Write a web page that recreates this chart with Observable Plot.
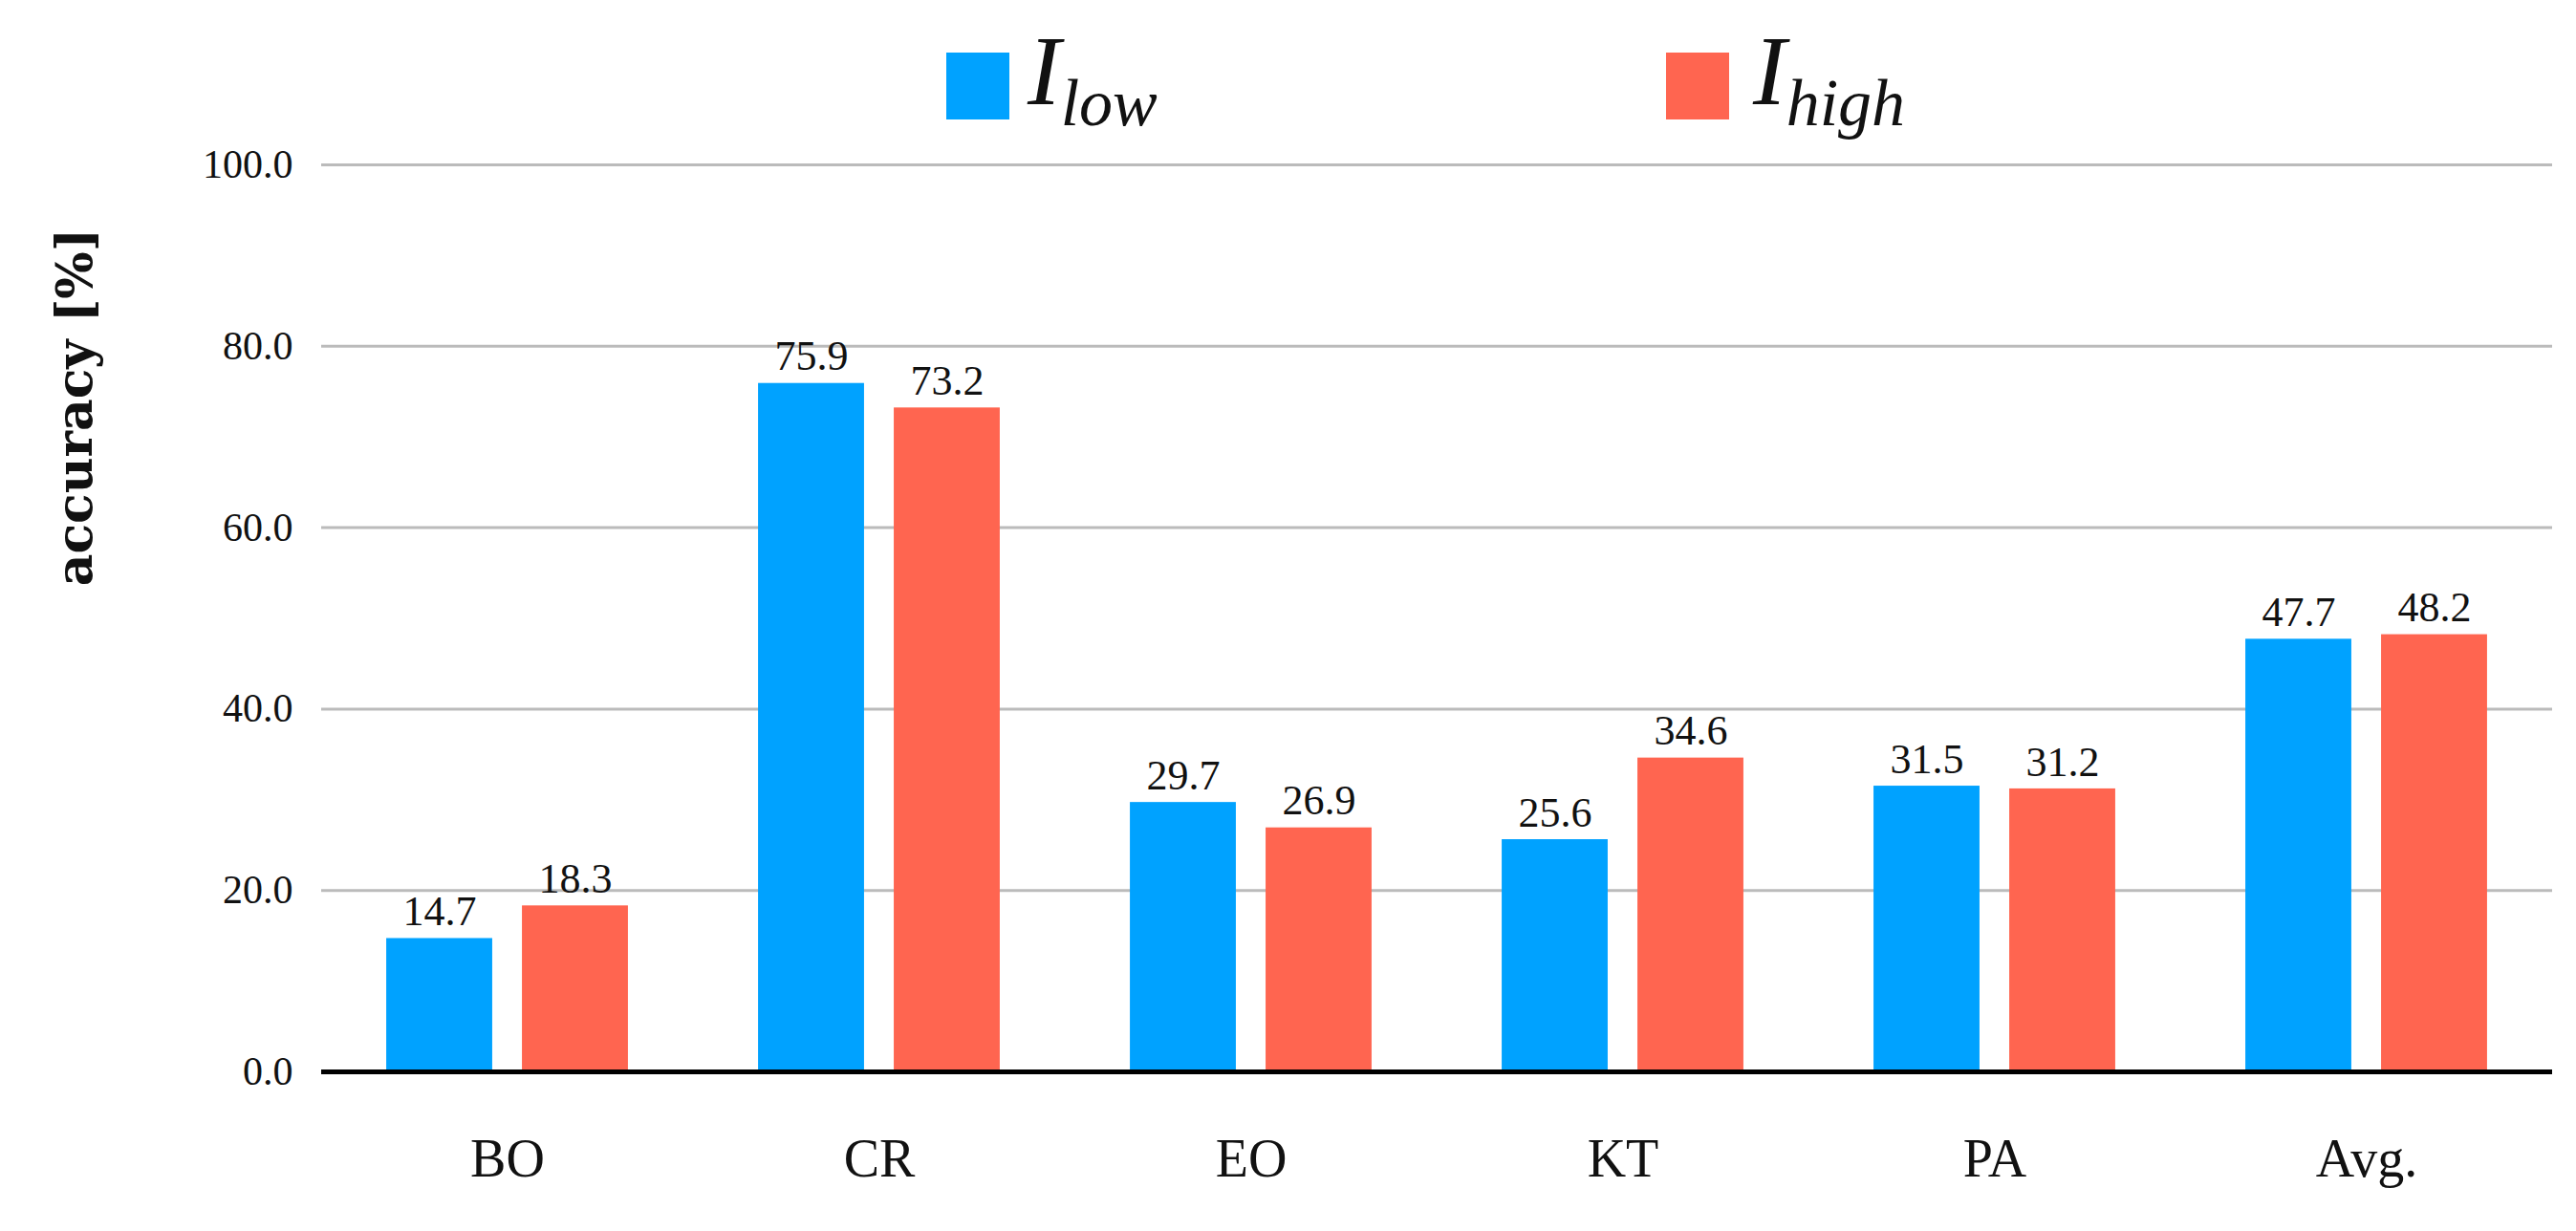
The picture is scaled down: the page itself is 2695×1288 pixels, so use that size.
<!DOCTYPE html>
<html><head><meta charset="utf-8">
<script src="https://cdn.jsdelivr.net/npm/d3@7"></script>
<script src="https://cdn.jsdelivr.net/npm/@observablehq/plot@0.6"></script>
<style>
body{margin:0;background:#fff;}
#wrap{position:relative;width:2695px;height:1288px;font-family:"Liberation Serif",serif;}
.lg{position:absolute;top:55px;width:66px;height:70px;}
.lt{position:absolute;top:14px;font-size:104px;font-style:italic;color:#111;}
.lt sub{font-size:70px;}
#yt{position:absolute;left:77px;top:426px;transform:translate(-50%,-50%) rotate(-90deg);font-family:"DejaVu Serif",serif;font-weight:bold;font-size:52px;white-space:nowrap;color:#111;}
</style></head><body>
<div id="wrap">
<div class="lg" style="left:990px;background:#00A2FF"></div><div class="lt" style="left:1075px">I<sub>low</sub></div>
<div class="lg" style="left:1743px;background:#FF6550"></div><div class="lt" style="left:1834px">I<sub>high</sub></div>
<div id="yt">accuracy [%]</div>
</div>
<script>
const categories = ["BO","CR","EO","KT","PA","Avg."];
const series = ["I_low","I_high"];
const lowValues = [14.7,75.9,29.7,25.6,31.5,47.7];
const highValues = [18.3,73.2,26.9,34.6,31.2,48.2];
const yTicks = [0,20,40,60,80,100];
const colors = ["#00A2FF","#FF6550"];
// bar slot within each category group (fraction of group width)
const slots = [[0.175,0.46],[0.54,0.825]];
const data = categories.flatMap((c,i)=>[lowValues[i],highValues[i]].map((v,j)=>(
  {i, s:series[j], v, x1:i+slots[j][0], x2:i+slots[j][1], xm:i+(slots[j][0]+slots[j][1])/2})));
const chart = Plot.plot({
  width:2695, height:1288,
  marginLeft:336, marginRight:25, marginTop:172, marginBottom:167,
  style:{fontFamily:"Liberation Serif, serif", fontSize:"44px", color:"#111", background:"transparent"},
  x:{domain:[0,categories.length], label:null},
  y:{domain:[0,100], label:null},
  color:{domain:series, range:colors},
  marks:[
    Plot.ruleY(yTicks.filter(t=>t>0), {stroke:"#bbb", strokeWidth:3}),
    Plot.axisY({ticks:yTicks, tickFormat:d=>d.toFixed(1), tickSize:0, tickPadding:30, fontSize:42, label:null}),
    Plot.axisX({ticks:categories.map((c,i)=>i+0.5), tickFormat:d=>categories[Math.floor(d)], tickSize:0, tickPadding:70, fontSize:56, label:null}),
    Plot.rectY(data, {x1:"x1", x2:"x2", y:"v", fill:"s"}),
    Plot.text(data, {x:"xm", y:"v", text:d=>d.v.toFixed(1), dy:-28, fontSize:44, fill:"#111"}),
    Plot.ruleY([0], {stroke:"#000", strokeWidth:5})
  ]
});
chart.style.position="absolute"; chart.style.left="0"; chart.style.top="0";
document.getElementById("wrap").prepend(chart);
</script>
</body></html>
